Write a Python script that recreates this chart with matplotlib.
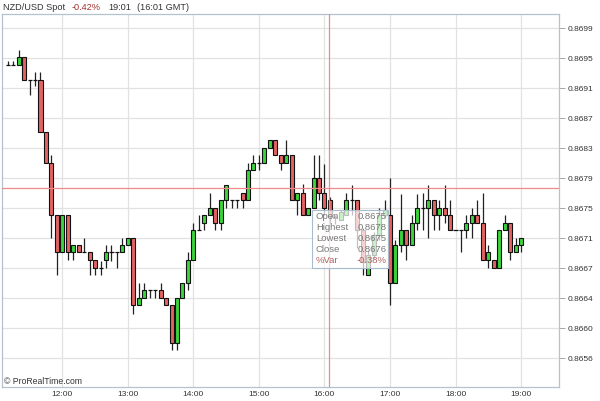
import numpy as np
import matplotlib
matplotlib.use("Agg")
import matplotlib.pyplot as plt
from matplotlib.patches import Rectangle

plt.rcParams['font.family'] = ['Liberation Sans', 'DejaVu Sans']

# 5-minute candles, 11:10 -> 19:00
times = ["11:10", "11:15", "11:20", "11:25", "11:30", "11:35", "11:40", "11:45", "11:50", "11:55",
         "12:00", "12:05", "12:10", "12:15", "12:20", "12:25", "12:30", "12:35", "12:40", "12:45", "12:50", "12:55",
         "13:00", "13:05", "13:10", "13:15", "13:20", "13:25", "13:30", "13:35", "13:40", "13:45", "13:50", "13:55",
         "14:00", "14:05", "14:10", "14:15", "14:20", "14:25", "14:30", "14:35", "14:40", "14:45", "14:50", "14:55",
         "15:00", "15:05", "15:10", "15:15", "15:20", "15:25", "15:30", "15:35", "15:40", "15:45", "15:50", "15:55",
         "16:00", "16:05", "16:10", "16:15", "16:20", "16:25", "16:30", "16:35", "16:40", "16:45", "16:50", "16:55",
         "17:00", "17:05", "17:10", "17:15", "17:20", "17:25", "17:30", "17:35", "17:40", "17:45", "17:50", "17:55",
         "18:00", "18:05", "18:10", "18:15", "18:20", "18:25", "18:30", "18:35", "18:40", "18:45", "18:50", "18:55",
         "19:00"]

opens = [0.86938, 0.86938, 0.86938, 0.86948, 0.86918, 0.86918, 0.86918, 0.86851, 0.86811, 0.86743,
         0.86695, 0.86743, 0.86695, 0.86704, 0.86695, 0.86695, 0.86685, 0.86674, 0.86685, 0.86695, 0.86695, 0.86695,
         0.86704, 0.86713, 0.86626, 0.86635, 0.86645, 0.86645, 0.86645, 0.86635, 0.86626, 0.86577, 0.86635, 0.86655,
         0.86685, 0.86724, 0.86733, 0.86743, 0.86752, 0.86733, 0.86762, 0.86762, 0.86762, 0.86772, 0.86762, 0.86801,
         0.86811, 0.86811, 0.86830, 0.86840, 0.86821, 0.86811, 0.86821, 0.86762, 0.86772, 0.86743, 0.86752, 0.86791,
         0.86772, 0.86762, 0.86740, 0.86737, 0.86743, 0.86762, 0.86762, 0.86724, 0.86665, 0.86691, 0.86717, 0.86743,
         0.86743, 0.86655, 0.86704, 0.86724, 0.86704, 0.86733, 0.86752, 0.86752, 0.86762, 0.86743, 0.86752, 0.86743,
         0.86724, 0.86724, 0.86724, 0.86733, 0.86743, 0.86733, 0.86685, 0.86685, 0.86674, 0.86724, 0.86733, 0.86695,
         0.86704]
highs = [0.86943, 0.86943, 0.86958, 0.86948, 0.86918, 0.86929, 0.86929, 0.86851, 0.86821, 0.86743,
         0.86743, 0.86743, 0.86704, 0.86704, 0.86713, 0.86695, 0.86685, 0.86683, 0.86704, 0.86704, 0.86695, 0.86713,
         0.86713, 0.86713, 0.86655, 0.86655, 0.86645, 0.86645, 0.86655, 0.86635, 0.86626, 0.86635, 0.86655, 0.86695,
         0.86733, 0.86743, 0.86743, 0.86772, 0.86752, 0.86762, 0.86782, 0.86762, 0.86762, 0.86772, 0.86811, 0.86821,
         0.86821, 0.86830, 0.86840, 0.86840, 0.86821, 0.86840, 0.86821, 0.86772, 0.86784, 0.86752, 0.86821, 0.86821,
         0.86810, 0.86767, 0.86743, 0.86750, 0.86772, 0.86782, 0.86762, 0.86726, 0.86698, 0.86721, 0.86752, 0.86762,
         0.86791, 0.86711, 0.86771, 0.86724, 0.86743, 0.86771, 0.86772, 0.86782, 0.86762, 0.86762, 0.86782, 0.86762,
         0.86724, 0.86724, 0.86743, 0.86752, 0.86762, 0.86772, 0.86704, 0.86685, 0.86724, 0.86743, 0.86733, 0.86713,
         0.86713]
lows = [0.86938, 0.86938, 0.86938, 0.86918, 0.86899, 0.86911, 0.86851, 0.86811, 0.86713, 0.86665,
        0.86695, 0.86685, 0.86685, 0.86695, 0.86695, 0.86665, 0.86665, 0.86665, 0.86674, 0.86683, 0.86674, 0.86695,
        0.86704, 0.86615, 0.86626, 0.86635, 0.86635, 0.86635, 0.86635, 0.86626, 0.86568, 0.86568, 0.86635, 0.86645,
        0.86685, 0.86724, 0.86724, 0.86743, 0.86724, 0.86724, 0.86752, 0.86752, 0.86752, 0.86752, 0.86762, 0.86801,
        0.86801, 0.86811, 0.86830, 0.86821, 0.86801, 0.86811, 0.86762, 0.86743, 0.86743, 0.86743, 0.86752, 0.86762,
        0.86743, 0.86733, 0.86732, 0.86737, 0.86743, 0.86743, 0.86700, 0.86665, 0.86665, 0.86687, 0.86711, 0.86739,
        0.86626, 0.86655, 0.86695, 0.86685, 0.86704, 0.86724, 0.86724, 0.86713, 0.86724, 0.86724, 0.86733, 0.86724,
        0.86724, 0.86695, 0.86713, 0.86713, 0.86733, 0.86685, 0.86674, 0.86674, 0.86674, 0.86724, 0.86685, 0.86695,
        0.86695]
closes = [0.86938, 0.86938, 0.86948, 0.86918, 0.86918, 0.86918, 0.86851, 0.86811, 0.86743, 0.86695,
          0.86743, 0.86695, 0.86704, 0.86695, 0.86695, 0.86685, 0.86674, 0.86674, 0.86695, 0.86695, 0.86695, 0.86704,
          0.86713, 0.86626, 0.86635, 0.86645, 0.86645, 0.86645, 0.86635, 0.86626, 0.86577, 0.86635, 0.86655, 0.86685,
          0.86724, 0.86724, 0.86743, 0.86752, 0.86733, 0.86762, 0.86782, 0.86762, 0.86762, 0.86762, 0.86801, 0.86811,
          0.86811, 0.86830, 0.86840, 0.86821, 0.86811, 0.86821, 0.86762, 0.86772, 0.86743, 0.86752, 0.86791, 0.86772,
          0.86752, 0.86740, 0.86740, 0.86747, 0.86762, 0.86762, 0.86724, 0.86682, 0.86691, 0.86717, 0.86743, 0.86750,
          0.86655, 0.86704, 0.86724, 0.86704, 0.86733, 0.86752, 0.86752, 0.86762, 0.86743, 0.86752, 0.86743, 0.86724,
          0.86724, 0.86724, 0.86733, 0.86743, 0.86733, 0.86685, 0.86695, 0.86674, 0.86724, 0.86733, 0.86695, 0.86704,
          0.86713]

hour_labels = ["12:00", "13:00", "14:00", "15:00", "16:00", "17:00", "18:00", "19:00"]
ytick_labels = ["0.8656", "0.8660", "0.8664", "0.8667", "0.8671", "0.8675",
                "0.8679", "0.8683", "0.8687", "0.8691", "0.8695", "0.8699"]
cross_price = 0.86778
cross_time = "16:04"
tip_names = ["Open", "Highest", "Lowest", "Close", "%Var"]
tip_values = ["0.8675", "0.8678", "0.8675", "0.8676", "-0.38%"]

GREEN = "#3bd43b"
RED = "#e36363"
TXT = "#333333"


def slot(t):
    # position in 5-minute slots from 12:00
    h, m = t.split(":")
    return (int(h) * 60 + int(m) - 720) / 5.0


x = np.array([slot(t) for t in times])
o = np.array(opens)
h = np.array(highs)
l = np.array(lows)
c = np.array(closes)

fig = plt.figure(figsize=(6, 4.01), dpi=100)
ax = fig.add_axes([2 / 600, 14 / 401, 557 / 600, 373 / 401])

# wicks
ax.vlines(x, l, h, color="#222222", lw=0.9, zorder=3)
# bodies
w = 0.74
up = c > o
dn = c < o
flat = c == o
ax.bar(x[up], (c - o)[up], bottom=o[up], width=w, color=GREEN, edgecolor="#111111", lw=0.8, zorder=4)
ax.bar(x[dn], (o - c)[dn], bottom=c[dn], width=w, color=RED, edgecolor="#111111", lw=0.8, zorder=4)
ax.hlines(c[flat], x[flat] - w / 2, x[flat] + w / 2, color="#111111", lw=0.9, zorder=4)

# axes ranges
ax.set_xlim(-11.05, 90.95)
ax.set_ylim(0.865195, 0.870044)
yt = 0.865572 + 0.00039 * np.arange(len(ytick_labels))
ax.set_yticks(yt)
ax.set_yticklabels(ytick_labels)
ax.set_xticks([slot(t) for t in hour_labels])
ax.set_xticklabels(hour_labels)
ax.yaxis.tick_right()
ax.tick_params(axis="y", length=4, width=0.6, color="#999999", pad=2, labelsize=6, labelcolor=TXT)
ax.tick_params(axis="x", length=0, pad=3, labelsize=6, labelcolor=TXT)
ax.grid(True, color="#e2e2e2", lw=0.9, zorder=0)
ax.set_axisbelow(True)
for s in ax.spines.values():
    s.set_color("#b4c2d0")
    s.set_linewidth(0.9)

# crosshair
ax.axhline(cross_price, color="#f08a8a", lw=0.9, zorder=5)
ax.axvline(slot(cross_time), color="#f08a8a", lw=0.9, zorder=5)

# tooltip box
ax.add_patch(Rectangle((0.556, 0.319), 0.137, 0.156, transform=ax.transAxes,
                       facecolor="white", alpha=0.72, edgecolor="none", zorder=6))
ax.add_patch(Rectangle((0.556, 0.319), 0.137, 0.156, transform=ax.transAxes,
                       facecolor="none", edgecolor="#a9bccd", lw=0.8, zorder=7))
rows = [0.458, 0.428, 0.398, 0.369, 0.340]
for i in range(len(tip_names)):
    col = "#b06060" if tip_names[i] == "%Var" else "#777777"
    ax.text(0.5635, rows[i], tip_names[i], transform=ax.transAxes, fontsize=6.8,
            color=col, va="center", ha="left", zorder=8)
    ax.text(0.6905, rows[i], tip_values[i], transform=ax.transAxes, fontsize=6.8,
            color=col, va="center", ha="right", zorder=8)

# header
fig.text(3 / 600, 1 - 7 / 401, "NZD/USD Spot", fontsize=6.6, color=TXT, va="center", ha="left")
fig.text(72 / 600, 1 - 7 / 401, "-0.42%", fontsize=6.6, color="#a33030", va="center", ha="left")
fig.text(108 / 600, 1 - 7 / 401, "19:01", fontsize=6.6, color=TXT, va="center", ha="left")
fig.text(137 / 600, 1 - 7 / 401, "(16:01 GMT)", fontsize=6.6, color=TXT, va="center", ha="left")

ax.text(0.003, 0.016, "\u00a9 ProRealTime.com", transform=ax.transAxes, fontsize=6.2,
        color=TXT, va="center", ha="left", zorder=8)

fig.savefig("out.png", dpi=100, facecolor="white")
